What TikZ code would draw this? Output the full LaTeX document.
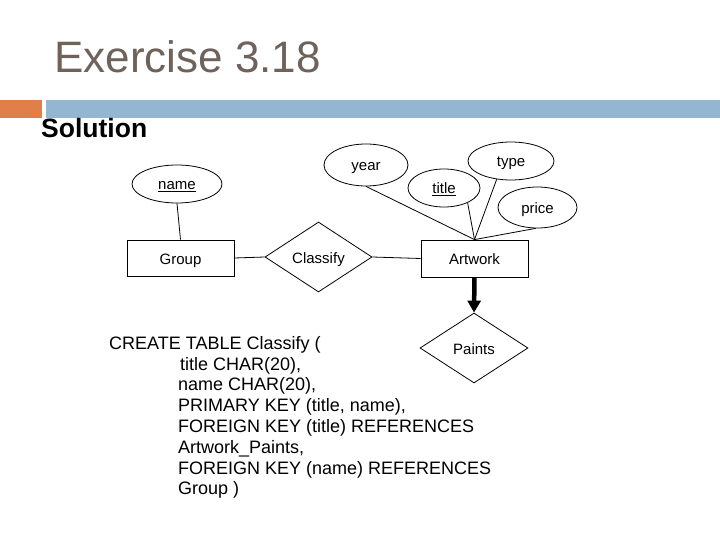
\documentclass[tikz,border=0pt]{standalone}
\usepackage{fontspec}
\setmainfont{Liberation Sans}
\usetikzlibrary{shapes.geometric,arrows.meta}
\definecolor{titlegray}{RGB}{110,98,91}
\definecolor{barorange}{RGB}{224,128,72}
\definecolor{barblue}{RGB}{148,182,210}
\tikzset{
  er/.style={font=\fontsize{15}{18}\selectfont, text=black, inner sep=0pt, line width=0.8pt, text height=14pt, text depth=2pt},
  attr/.style={er, draw, ellipse},
  entity/.style={er, draw, rectangle},
  rel/.style={er, draw, diamond},
  link/.style={line width=0.8pt},
  sql/.style={font=\fontsize{18}{20.8}\selectfont, inner sep=0pt, anchor=base west}
}
\begin{document}
\begin{tikzpicture}[x=1pt,y=-1pt]
\useasboundingbox (0,0) rectangle (720,540);
% header
\node[anchor=base west, inner sep=0pt, text=titlegray, font=\fontsize{44}{50}\selectfont] (title) at (54,73) {Exercise 3.18};
\fill[barorange] (0,100) rectangle (42,118);
\fill[barblue] (46,100) rectangle (720,118);
\node[anchor=base west, inner sep=0pt, font=\fontsize{26.5}{30}\selectfont\bfseries] (sol) at (41,138) {Solution};
% ER diagram
\node[attr, minimum width=90pt, minimum height=38pt] (name) at (177,184) {\underline{name}};
\node[entity, minimum width=107pt, minimum height=36pt] (group) at (180.5,258) {Group};
\node[rel, minimum width=107pt, minimum height=70pt] (classify) at (318.5,257) {Classify};
\node[entity, minimum width=107pt, minimum height=37pt] (artwork) at (474.5,258.5) {Artwork};
\node[attr, minimum width=84pt, minimum height=42pt] (year) at (366,165) {year};
\node[attr, minimum width=72pt, minimum height=38pt] (titleattr) at (444,188) {\underline{title}};
\node[attr, minimum width=86pt, minimum height=38pt] (type) at (511,161) {type};
\node[attr, minimum width=79pt, minimum height=41pt] (price) at (537.5,207.5) {price};
\node[rel, minimum width=108pt, minimum height=70pt] (paints) at (474,348) {Paints};
\draw[link] (name.south) -- (group.north);
\draw[link] (group.east) -- (classify.west);
\draw[link] (classify.east) -- (artwork.west);
\draw[link] (year.south) -- (artwork.north);
\draw[link] (titleattr.-32) -- (artwork.north);
\draw[link] (type.-128) -- (artwork.north);
\draw[link] (price.-95) -- (artwork.north);
\draw[line width=4.5pt, -{Triangle[width=13pt,length=12pt]}] (artwork.south) -- (paints.north);
% SQL
\node[sql] (sql1) at (109,349) {CREATE TABLE Classify (};
\node[sql] (sql2) at (180,370) {title CHAR(20),};
\node[sql] (sql3) at (178,390.8) {name CHAR(20),};
\node[sql] (sql4) at (178,411.6) {PRIMARY KEY (title, name),};
\node[sql] (sql5) at (178,432.4) {FOREIGN KEY (title) REFERENCES};
\node[sql] (sql6) at (178,453.2) {Artwork\_Paints,};
\node[sql] (sql7) at (178,474) {FOREIGN KEY (name) REFERENCES};
\node[sql] (sql8) at (178,494.8) {Group )};
\end{tikzpicture}
\end{document}
